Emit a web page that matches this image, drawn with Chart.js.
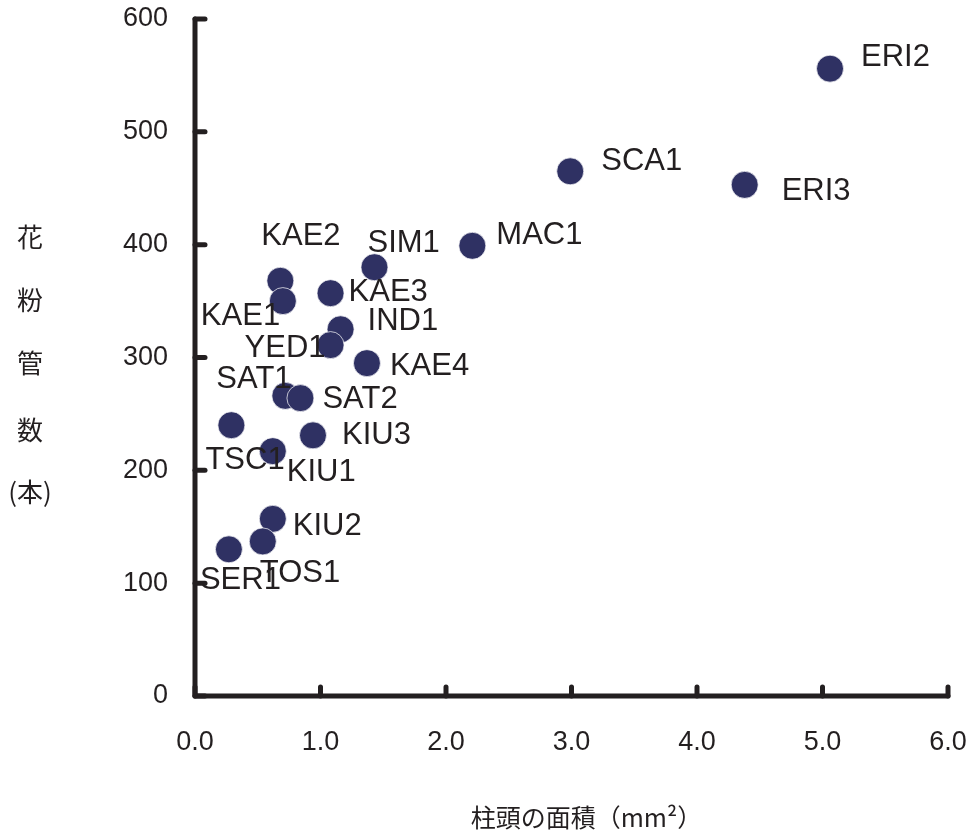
<!DOCTYPE html>
<html>
<head>
<meta charset="utf-8">
<script src="https://cdn.jsdelivr.net/npm/chart.js@4/dist/chart.umd.min.js"></script>
<style>
html,body{margin:0;padding:0;background:#ffffff;}
#wrap{width:966px;height:834px;position:relative;}
</style>
</head>
<body>
<div id="wrap"><canvas id="c" width="966" height="834"></canvas></div>
<script>
// ---- data ----
const sampleNames = ['ERI2','SCA1','ERI3','MAC1','SIM1','KAE2','KAE3','KAE1','IND1','YED1','KAE4','SAT1','SAT2','TSC1','KIU3','KIU1','KIU2','TOS1','SER1'];
const stigmaArea  = [5.06, 2.99, 4.38, 2.21, 1.43, 0.68, 1.08, 0.70, 1.16, 1.08, 1.37, 0.72, 0.84, 0.29, 0.94, 0.62, 0.62, 0.54, 0.27];
const pollenTubes = [556, 465, 453, 399, 380, 368, 357, 350, 325, 311, 295, 266, 264, 240, 231, 217, 157, 137, 130];
const xTickValues = [0, 1, 2, 3, 4, 5, 6];
const xTickLabels = ['0.0','1.0','2.0','3.0','4.0','5.0','6.0'];
const yTickValues = [0, 100, 200, 300, 400, 500, 600];
const yTickLabels = ['0','100','200','300','400','500','600'];
const xTitle = '柱頭の面積（mm²）';
const yTitleLines = ['花','粉','管','数','(本)'];

// ---- label placement (style: offset of label left edge / vertical centre from point centre, px) ----
const labelOffsets = [
  [31,-12],[31,-11],[37,6],[24,-11],[-7,-25],[-19,-45],[18,-2],[-82,14],[27,-9],[-86,2],
  [23,2],[-69,-17],[22,0],[-26,34],[29,-1],[14,20],[20,7],[-3,31],[-29,30]
];

const INK = '#231f20';
const DOT = '#2f3163';

const points = stigmaArea.map((x, i) => ({x: x, y: pollenTubes[i]}));

const axesPlugin = {
  id: 'axesPlugin',
  afterDatasetsDraw(chart) {
    const ctx = chart.ctx;
    const xs = chart.scales.x, ys = chart.scales.y;
    const x0 = xs.getPixelForValue(xTickValues[0]);
    const y0 = ys.getPixelForValue(yTickValues[0]);
    ctx.save();
    // labels
    ctx.fillStyle = INK;
    ctx.font = '31px "Liberation Sans", Arial, sans-serif';
    ctx.textAlign = 'left';
    ctx.textBaseline = 'middle';
    points.forEach((p, i) => {
      const px = xs.getPixelForValue(p.x);
      const py = ys.getPixelForValue(p.y);
      const off = labelOffsets[i];
      ctx.fillText(sampleNames[i], px + off[0], py + off[1] + 1);
    });
    // axes
    ctx.strokeStyle = INK;
    ctx.lineWidth = 5;
    ctx.lineCap = 'round';
    ctx.lineJoin = 'round';
    ctx.beginPath();
    ctx.moveTo(x0, ys.getPixelForValue(yTickValues[yTickValues.length-1]));
    ctx.lineTo(x0, y0);
    ctx.lineTo(xs.getPixelForValue(xTickValues[xTickValues.length-1]), y0);
    ctx.stroke();
    yTickValues.forEach(v => {
      const py = ys.getPixelForValue(v);
      ctx.beginPath(); ctx.moveTo(x0, py); ctx.lineTo(x0 + 10, py); ctx.stroke();
    });
    xTickValues.forEach(v => {
      const px = xs.getPixelForValue(v);
      ctx.beginPath(); ctx.moveTo(px, y0); ctx.lineTo(px, y0 - 9); ctx.stroke();
    });
    // titles
    ctx.fillStyle = INK;
    ctx.font = '26px "Noto Sans CJK JP", sans-serif';
    ctx.textAlign = 'center';
    ctx.textBaseline = 'middle';
    const yCenters = [237, 300, 363, 430, 492];
    yTitleLines.forEach((t, i) => ctx.fillText(t, 30, yCenters[i]));
    ctx.font = '25px "Noto Sans CJK JP", sans-serif';
    ctx.fillText(xTitle, (chart.chartArea.left + chart.chartArea.right) / 2 + 15, 817);
    ctx.restore();
  }
};

new Chart(document.getElementById('c'), {
  type: 'scatter',
  data: {
    datasets: [{
      data: points,
      backgroundColor: DOT,
      borderColor: 'rgba(255,255,255,0.7)',
      borderWidth: 1,
      pointRadius: 13.5,
      pointHoverRadius: 13.5,
      clip: false
    }]
  },
  options: {
    responsive: false,
    animation: false,
    events: [],
    layout: { padding: { left: 0, top: 19, right: 18, bottom: 0 } },
    plugins: { legend: { display: false }, tooltip: { enabled: false } },
    scales: {
      x: {
        type: 'linear', min: 0, max: 6,
        grid: { display: false, drawTicks: false },
        border: { display: false },
        afterBuildTicks: s => { s.ticks = xTickValues.map(v => ({value: v})); },
        afterFit: s => { s.height = 138; s.paddingLeft = 0; s.paddingRight = 0; s.paddingTop = 0; s.paddingBottom = 0; },
        ticks: {
          maxRotation: 0, autoSkip: false, padding: 30,
          color: INK,
          font: { family: '"Liberation Sans", Arial, sans-serif', size: 27 },
          callback: (v, i) => xTickLabels[i]
        }
      },
      y: {
        type: 'linear', min: 0, max: 600,
        grid: { display: false, drawTicks: false },
        border: { display: false },
        afterBuildTicks: s => { s.ticks = yTickValues.map(v => ({value: v})); },
        afterFit: s => { s.width = 195; s.paddingLeft = 0; s.paddingRight = 0; s.paddingTop = 0; s.paddingBottom = 0; },
        ticks: {
          autoSkip: false, padding: 27,
          color: INK,
          font: { family: '"Liberation Sans", Arial, sans-serif', size: 27 },
          callback: (v, i) => yTickLabels[i]
        }
      }
    }
  },
  plugins: [axesPlugin]
});
</script>
</body>
</html>
